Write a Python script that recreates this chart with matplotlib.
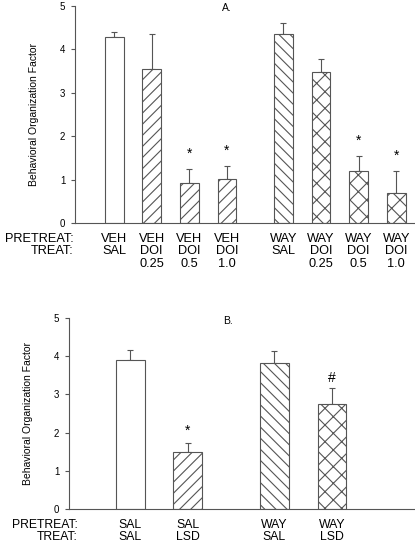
import matplotlib
matplotlib.use("Agg")
import matplotlib.pyplot as plt
import numpy as np

plt.rcParams['font.family'] = ['Liberation Sans', 'DejaVu Sans']

# ---- Panel A data ----
pretreat_a = ["VEH", "VEH", "VEH", "VEH", "WAY", "WAY", "WAY", "WAY"]
treat_a = ["SAL", "DOI", "DOI", "DOI", "SAL", "DOI", "DOI", "DOI"]
dose_a = ["", "0.25", "0.5", "1.0", "", "0.25", "0.5", "1.0"]
values_a = [4.28, 3.54, 0.92, 1.01, 4.35, 3.48, 1.19, 0.69]
sem_a = [0.11, 0.81, 0.32, 0.30, 0.25, 0.29, 0.35, 0.50]
marks_a = ["", "", "*", "*", "", "", "*", "*"]
hatch_a = ["", "///", "///", "///", "\\\\\\", "xx", "xx", "xx"]
group_a = [0, 0, 0, 0, 1, 1, 1, 1]

# ---- Panel B data ----
pretreat_b = ["SAL", "SAL", "WAY", "WAY"]
treat_b = ["SAL", "LSD", "SAL", "LSD"]
values_b = [3.89, 1.49, 3.81, 2.75]
sem_b = [0.26, 0.23, 0.31, 0.41]
marks_b = ["", "*", "", "#"]
hatch_b = ["", "///", "\\\\\\", "xx"]
group_b = [0, 0, 1, 1]

W, H = 415, 545
fig = plt.figure(figsize=(W / 100, H / 100), dpi=100)

edge = "#555555"
plt.rcParams['hatch.color'] = "#444444"
plt.rcParams['hatch.linewidth'] = 0.8


def panel(rect, xlim, pre, tr, dose, vals, sems, marks, hatches, groups,
          title, title_x, title_y, mark_off, label_right, labely, fs_lab, pad):
    ax = fig.add_axes(rect)
    x = np.arange(len(vals)) + 0.5 * np.array(groups)
    ax.bar(x, vals, width=0.5, color="white", edgecolor=edge, linewidth=0.8,
           hatch=hatches, zorder=2)
    ax.errorbar(x, vals, yerr=[np.zeros(len(vals)), sems], fmt="none",
                ecolor=edge, elinewidth=0.8, capsize=2.5, capthick=0.8, zorder=1)
    for xi, v, s, m in zip(x, vals, sems, marks):
        if m:
            yoff = mark_off if m == "*" else mark_off - 0.05
            ax.text(xi, v + s + yoff, m, ha="center", va="center", fontsize=10)
    ax.set_xlim(*xlim)
    ax.set_ylim(0, 5)
    ax.set_yticks(range(6))
    ax.tick_params(axis="y", labelsize=7, length=3, width=0.8, color=edge, pad=4)
    for sp in ["top", "right"]:
        ax.spines[sp].set_visible(False)
    ax.spines["left"].set_color(edge)
    ax.spines["bottom"].set_color(edge)
    ax.spines["left"].set_linewidth(0.8)
    ax.spines["bottom"].set_linewidth(0.8)
    ax.set_ylabel("Behavioral Organization Factor", fontsize=7.5, labelpad=labely)
    if dose is None:
        labels = [f"{p}\n{t}" for p, t in zip(pre, tr)]
    else:
        labels = [f"{p}\n{t}\n{d}" if d else f"{p}\n{t}" for p, t, d in zip(pre, tr, dose)]
    ax.set_xticks(x)
    ax.set_xticklabels(labels, fontsize=fs_lab, linespacing=1.05, va="top")
    ax.tick_params(axis="x", length=0, pad=pad)
    ax.text(title_x, title_y, title, transform=ax.transAxes,
            ha="center", va="center", fontsize=7.5)
    ax.text(label_right, -pad / 72 * 100 / (rect[3] * H), "PRETREAT:\nTREAT:",
            transform=ax.transAxes,
            ha="right", va="top", fontsize=fs_lab, linespacing=1.05)
    return ax


axA = panel([75 / W, 1 - 223 / H, 340 / W, 217 / H], (-1.04, 8.0),
            pretreat_a, treat_a, dose_a, values_a, sem_a, marks_a, hatch_a, group_a,
            "A.", 0.447, 0.99, 0.35, -0.005, 15, 9.2, 7)
axB = panel([69 / W, 1 - 509.3 / H, 346 / W, 191.6 / H], (-1.06, 4.94),
            pretreat_b, treat_b, None, values_b, sem_b, marks_b, hatch_b, group_b,
            "B.", 0.459, 0.982, 0.32, 0.025, 15, 8.8, 7)

fig.savefig("out.png", dpi=100)
